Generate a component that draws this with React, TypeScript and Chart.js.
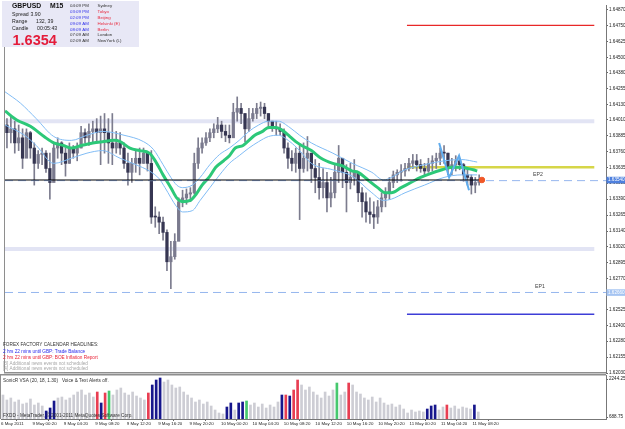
import React, { useEffect, useRef } from 'react';
import { Chart, registerables } from 'chart.js';

Chart.register(...registerables);

const FONT = "'Liberation Sans', Arial, sans-serif";

// ---- GBPUSD candles (each candle = 30 min, two M15 slots on the x axis) ----
const highs = [
  1.6402, 1.6404, 1.6400, 1.6397, 1.6394, 1.6394, 1.6392, 1.6383, 1.6377, 1.6379,
  1.6377, 1.6375, 1.6383, 1.6387, 1.6384, 1.6379, 1.6383, 1.6381, 1.6383, 1.6396,
  1.6394, 1.6398, 1.6400, 1.6402, 1.6404, 1.6406, 1.6402, 1.6406, 1.6392, 1.6391,
  1.6383, 1.6375, 1.6371, 1.6377, 1.6379, 1.6379, 1.6375, 1.6377, 1.6333, 1.6329,
  1.6325, 1.6315, 1.6306, 1.6312, 1.6340, 1.6346, 1.6347, 1.6348, 1.6375, 1.6387,
  1.6387, 1.6391, 1.6394, 1.6398, 1.6403, 1.6400, 1.6397, 1.6397, 1.6414, 1.6419,
  1.6414, 1.6406, 1.6410, 1.6410, 1.6414, 1.6415, 1.6414, 1.6406, 1.6400, 1.6400,
  1.6398, 1.6394, 1.6383, 1.6377, 1.6379, 1.6381, 1.6383, 1.6388, 1.6375, 1.6370,
  1.6367, 1.6363, 1.6360, 1.6356, 1.6367, 1.6381, 1.6371, 1.6366, 1.6367, 1.6370,
  1.6360, 1.6348, 1.6344, 1.6340, 1.6337, 1.6338, 1.6344, 1.6348, 1.6356, 1.6361,
  1.6362, 1.6366, 1.6367, 1.6371, 1.6374, 1.6374, 1.6370, 1.6367, 1.6371, 1.6373,
  1.6375, 1.6379, 1.6381, 1.6375, 1.6371, 1.6373, 1.6371, 1.6367, 1.6363, 1.6358,
  1.6356, 1.6358,
];
const lows = [
  1.6379, 1.6383, 1.6375, 1.6377, 1.6363, 1.6375, 1.6371, 1.6350, 1.6363, 1.6366,
  1.6360, 1.6339, 1.6363, 1.6371, 1.6366, 1.6357, 1.6367, 1.6371, 1.6369, 1.6379,
  1.6383, 1.6381, 1.6384, 1.6383, 1.6366, 1.6375, 1.6367, 1.6366, 1.6375, 1.6374,
  1.6363, 1.6350, 1.6352, 1.6360, 1.6358, 1.6367, 1.6361, 1.6320, 1.6317, 1.6312,
  1.6307, 1.6283, 1.6269, 1.6292, 1.6310, 1.6333, 1.6335, 1.6337, 1.6343, 1.6363,
  1.6375, 1.6381, 1.6384, 1.6387, 1.6391, 1.6387, 1.6384, 1.6383, 1.6394, 1.6400,
  1.6398, 1.6384, 1.6392, 1.6400, 1.6402, 1.6404, 1.6402, 1.6394, 1.6392, 1.6389,
  1.6389, 1.6375, 1.6363, 1.6361, 1.6360, 1.6323, 1.6360, 1.6361, 1.6352, 1.6344,
  1.6339, 1.6340, 1.6329, 1.6333, 1.6340, 1.6352, 1.6348, 1.6329, 1.6347, 1.6350,
  1.6337, 1.6325, 1.6321, 1.6320, 1.6316, 1.6320, 1.6329, 1.6333, 1.6339, 1.6348,
  1.6352, 1.6353, 1.6357, 1.6361, 1.6363, 1.6361, 1.6360, 1.6358, 1.6360, 1.6361,
  1.6363, 1.6366, 1.6367, 1.6358, 1.6358, 1.6361, 1.6362, 1.6353, 1.6350, 1.6343,
  1.6344, 1.6350,
];
const closes = [
  1.6391, 1.6394, 1.6383, 1.6387, 1.6371, 1.6391, 1.6379, 1.6367, 1.6374, 1.6375,
  1.6363, 1.6352, 1.6379, 1.6383, 1.6375, 1.6367, 1.6379, 1.6375, 1.6379, 1.6391,
  1.6387, 1.6392, 1.6394, 1.6391, 1.6394, 1.6391, 1.6383, 1.6379, 1.6383, 1.6379,
  1.6367, 1.6360, 1.6367, 1.6371, 1.6367, 1.6375, 1.6367, 1.6325, 1.6325, 1.6321,
  1.6313, 1.6290, 1.6294, 1.6306, 1.6337, 1.6340, 1.6343, 1.6344, 1.6367, 1.6379,
  1.6383, 1.6387, 1.6391, 1.6394, 1.6397, 1.6392, 1.6389, 1.6387, 1.6407, 1.6410,
  1.6406, 1.6394, 1.6402, 1.6406, 1.6410, 1.6411, 1.6406, 1.6400, 1.6395, 1.6394,
  1.6392, 1.6379, 1.6371, 1.6367, 1.6375, 1.6363, 1.6371, 1.6375, 1.6363, 1.6356,
  1.6348, 1.6352, 1.6340, 1.6344, 1.6360, 1.6371, 1.6360, 1.6352, 1.6356, 1.6360,
  1.6344, 1.6337, 1.6329, 1.6327, 1.6325, 1.6333, 1.6340, 1.6344, 1.6352, 1.6358,
  1.6360, 1.6361, 1.6363, 1.6367, 1.6369, 1.6366, 1.6363, 1.6361, 1.6367, 1.6369,
  1.6371, 1.6375, 1.6375, 1.6363, 1.6366, 1.6369, 1.6366, 1.6358, 1.6356, 1.6350,
  1.6352, 1.6354,
];
const firstOpen = 1.6397;

// ---- SonicR VSA volume (one bar per candle) ----
const volumes = [
  1589, 1385, 1467, 1303, 1385, 1221, 1262, 1426, 1180, 1262,
  1139, 934, 1057, 1344, 1467, 1507, 1385, 1467, 1589, 1712,
  1794, 1589, 1671, 1507, 1712, 1262, 1671, 1753, 1589, 1794,
  1876, 1671, 1589, 1712, 1548, 1467, 1385, 1671, 1999, 2203,
  2285, 2121, 2203, 1999, 1876, 1917, 1712, 1589, 1467, 1303,
  1385, 1221, 1303, 1139, 975, 853, 812, 1098, 1262, 975,
  1262, 1303, 1344, 1180, 1262, 1098, 1221, 1057, 1180, 1098,
  1303, 1589, 1589, 1548, 1794, 2203, 1999, 1794, 1917, 1712,
  1589, 1467, 1712, 1548, 1794, 2080, 1589, 1712, 2080, 1999,
  1712, 1630, 1467, 1385, 1507, 1303, 1467, 1262, 1180, 1221,
  1098, 1180, 1016, 853, 975, 894, 934, 894, 1016, 1139,
  1180, 975, 1098, 1180, 1057, 1139, 1016, 1098, 1057, 1016,
  1180, 894,
];
// g = normal, n = navy, r = red, G = green
const volumeKinds = (
  'gggggggggg' + 'gnnngggggg' + 'ggggrnrGgg' + 'gggggggrnn' + 'nggggggggg' +
  'gggggggnng' + 'nnGggggggg' + 'gnrnrrgggg' + 'gggggGggrg' + 'gggggggggg' +
  'ggggggggnn' + 'nggrgggggg' + 'ng'
).split('');

// ---- indicator lines: [M15 slot, price] ----
const maLine: [number, number][] = [
  [0, 1.6408], [6, 1.6401], [13, 1.6396], [20, 1.6388], [25, 1.6383], [30, 1.6381],
  [34, 1.6379], [39, 1.6381], [45, 1.6383], [50, 1.6384], [56, 1.6385], [59, 1.6384],
  [64, 1.6379], [69, 1.6377], [74, 1.6375], [77, 1.6369], [81, 1.6358], [85, 1.6348],
  [88, 1.6340], [91, 1.6337], [95, 1.6338], [98, 1.6343], [101, 1.6350], [105, 1.6357],
  [108, 1.6364], [112, 1.6369], [115, 1.6373], [118, 1.6379], [122, 1.6381], [125, 1.6385],
  [128, 1.6389], [132, 1.6392], [135, 1.6395], [139, 1.6395], [142, 1.6393], [146, 1.6388],
  [149, 1.6384], [152, 1.6381], [157, 1.6377], [162, 1.6371], [168, 1.6367], [173, 1.6365],
  [178, 1.6361], [181, 1.6360], [186, 1.6354], [191, 1.6348], [195, 1.6344], [198, 1.6344],
  [203, 1.6348], [208, 1.6352], [213, 1.6356], [218, 1.6359], [224, 1.6362], [229, 1.6364],
  [234, 1.6364], [237, 1.6363], [240, 1.6362], [242, 1.6361],
];
const upperBand: [number, number][] = [
  [0, 1.6423], [8, 1.6414], [16, 1.6402], [25, 1.6388], [34, 1.6385], [42, 1.6389],
  [50, 1.6392], [61, 1.6389], [71, 1.6384], [76, 1.6378], [81, 1.6366], [85, 1.6356],
  [88, 1.6350], [91, 1.6348], [96, 1.6350], [100, 1.6356], [105, 1.6366], [110, 1.6374],
  [115, 1.6379], [120, 1.6385], [125, 1.6392], [130, 1.6397], [135, 1.6400], [140, 1.6400],
  [146, 1.6395], [151, 1.6389], [157, 1.6383], [168, 1.6375], [178, 1.6367], [188, 1.6360],
  [194, 1.6354], [198, 1.6356], [205, 1.6362], [215, 1.6366], [225, 1.6369], [234, 1.6370],
  [242, 1.6368],
];
const lowerBand: [number, number][] = [
  [0, 1.6397], [10, 1.6389], [16, 1.6381], [25, 1.6367], [34, 1.6371], [42, 1.6375],
  [50, 1.6377], [59, 1.6371], [67, 1.6366], [74, 1.6361], [79, 1.6355], [82, 1.6348],
  [88, 1.6333], [91, 1.6329], [96, 1.6330], [100, 1.6338], [105, 1.6348], [110, 1.6358],
  [115, 1.6367], [120, 1.6373], [125, 1.6379], [130, 1.6384], [135, 1.6388], [140, 1.6389],
  [146, 1.6384], [151, 1.6377], [157, 1.6367], [168, 1.6362], [178, 1.6357], [188, 1.6344],
  [194, 1.6338], [198, 1.6339], [205, 1.6344], [215, 1.6350], [225, 1.6356], [234, 1.6358],
  [242, 1.6358],
];
const zigzag: [number, number][] = [
  [222.5, 1.6383], [227.6, 1.6356], [232.7, 1.6373], [237.8, 1.6346],
];

// ---- horizontal levels ----
const redLevel = 1.6475;
const resistLevel = 1.64;
const yellowLevel = 1.6364;
const bidLevel = 1.6354;
const dashLevel = 1.63535;
const supportLevel = 1.63;
const ep1Level = 1.6266;
const navyLevel = 1.6249;
const levelStart = 206;
const levelEnd = 302;
const bidSlot = 244.4;

// ---- axis ticks ----
const priceTicks = [
  1.6487, 1.6475, 1.64625, 1.645, 1.6438, 1.64255, 1.6413, 1.6401, 1.63885, 1.6376,
  1.63635, 1.63515, 1.6339, 1.63265, 1.6314, 1.6302, 1.62895, 1.6277, 1.62525, 1.624,
  1.6228, 1.62155, 1.6203,
];
const volumeTicks = [688.75, 2244.25];
const dateTicks = [0, 16, 32, 48, 64, 80, 96, 112, 128, 144, 160, 176, 192, 208, 224, 240];
const dateLabels = [
  '6 May 2011', '9 May 00:20', '9 May 04:20', '9 May 08:20', '9 May 12:20', '9 May 16:20',
  '9 May 20:20', '10 May 00:20', '10 May 04:20', '10 May 08:20', '10 May 12:20',
  '10 May 16:20', '10 May 20:20', '11 May 00:20', '11 May 04:20', '11 May 08:20',
];

const cityTimes = ['04:09 PM', '03:09 PM', '02:09 PM', '09:09 AM', '08:09 AM', '07:09 AM', '02:09 AM'];
const cityNames = ['Sydney', 'Tokyo', 'Beijing', 'Helsinki (E)', 'Berlin', 'London', 'NewYork (L)'];
const headlines = [
  'FOREX FACTORY CALENDAR HEADLINES:',
  '2 hrs 22 mins until GBP: Trade Balance',
  '2 hrs 22 mins until GBP: BOE Inflation Report',
  '[3] Additional news events not scheduled',
  '[4] Additional news events not scheduled',
];

const X_MIN = 0;
const X_MAX = 308;
const slot = (k: number) => 2 * k + 1;

const BULL = '#7a7a8e';
const BEAR = '#363652';
const WICK = '#7c7c8e';
const VOL_COLORS: Record<string, string> = {
  g: 'rgb(205,205,212)',
  n: 'rgb(22,22,140)',
  r: 'rgb(232,62,82)',
  G: 'rgb(70,200,110)',
};

function lineDs(pts: [number, number][], color: string, width: number, order: number, extra: any = {}) {
  return {
    type: 'line',
    data: pts.map(([x, y]) => ({ x, y })),
    borderColor: color,
    backgroundColor: color,
    borderWidth: width,
    pointRadius: 0,
    fill: false,
    order,
    ...extra,
  };
}

export default function App() {
  const topRef = useRef<HTMLCanvasElement>(null);
  const botRef = useRef<HTMLCanvasElement>(null);

  useEffect(() => {
    document.body.style.margin = '0';
    const opens = closes.map((c, k) => (k === 0 ? firstOpen : closes[k - 1]));
    const wicks = highs.map((h, k) => ({ x: slot(k), y: [lows[k], h] }));
    const bodies = closes.map((c, k) => ({ x: slot(k), y: [opens[k], c] }));
    const bodyColors = closes.map((c, k) => (c > opens[k] ? BULL : BEAR));

    const overlayTop = {
      id: 'overlayTop',
      afterDraw(chart: any) {
        const ctx = chart.ctx as CanvasRenderingContext2D;
        const ca = chart.chartArea;
        const ys = chart.scales.y;
        ctx.save();
        // frame
        ctx.fillStyle = '#8e8e8e';
        ctx.fillRect(ca.left - 1, ca.top, 1, ca.bottom - ca.top);
        ctx.fillRect(ca.left - 1, ca.bottom - 1, ca.right - ca.left + 1, 1.5);

        // info box
        ctx.fillStyle = 'rgb(232,232,246)';
        ctx.fillRect(2, 1, 137, 46);
        ctx.textBaseline = 'middle';
        ctx.fillStyle = '#111';
        ctx.font = `bold 6.8px ${FONT}`;
        ctx.fillText('GBPUSD', 12, 6.5);
        ctx.fillText('M15', 50, 6.5);
        ctx.font = `5.2px ${FONT}`;
        ctx.fillStyle = '#222';
        ctx.fillText('Spread', 12, 14.5);
        ctx.fillText('3.90', 30.5, 14.5);
        ctx.fillText('Range', 12, 21.5);
        ctx.fillText('132, 39', 36, 21.5);
        ctx.fillText('Candle', 12, 28.5);
        ctx.fillText('00:05:43', 37, 28.5);
        ctx.textBaseline = 'alphabetic';
        ctx.fillStyle = 'rgb(228,28,58)';
        ctx.font = `bold 14.5px ${FONT}`;
        ctx.fillText('1.6354', 12.5, 44.5);
        ctx.textBaseline = 'middle';
        ctx.font = `4.4px ${FONT}`;
        const rowsY = [6, 12, 18, 24, 29.5, 35, 41];
        cityTimes.forEach((t, i) => {
          const accent = i >= 1 && i <= 4;
          ctx.fillStyle = accent ? 'rgb(50,50,235)' : '#333';
          ctx.fillText(t, 70, rowsY[i]);
          ctx.fillStyle = accent ? 'rgb(232,40,60)' : '#333';
          ctx.fillText(cityNames[i], 97.5, rowsY[i]);
        });

        // headlines
        const hlColors = ['#333', 'rgb(40,40,235)', 'rgb(232,30,50)', '#a8a8a8', '#a8a8a8'];
        const hlY = [345, 351.5, 357.5, 363.5, 369];
        ctx.font = `4.7px ${FONT}`;
        headlines.forEach((h, i) => {
          ctx.fillStyle = hlColors[i];
          ctx.fillText(h, 3, hlY[i]);
        });

        // EP labels
        ctx.fillStyle = '#444';
        ctx.font = `5.2px ${FONT}`;
        ctx.fillText('EP2', 533, ys.getPixelForValue(dashLevel) - 6);
        ctx.fillText('EP1', 535, ys.getPixelForValue(ep1Level) - 6);

        // price tags on axis
        const tag = (price: number, text: string, bg: string) => {
          const py = ys.getPixelForValue(price);
          ctx.fillStyle = bg;
          ctx.fillRect(606.5, py - 3.2, 18.5, 6.6);
          ctx.fillStyle = '#fff';
          ctx.font = `4.6px ${FONT}`;
          ctx.fillText(text, 608, py + 0.2);
        };
        tag(bidLevel, '1.63540', 'rgb(78,128,222)');
        tag(ep1Level, '1.62660', 'rgb(165,196,242)');
        ctx.restore();
      },
    };

    const topChart = new Chart(topRef.current as HTMLCanvasElement, {
      type: 'bar',
      data: {
        datasets: [
          {
            type: 'line',
            data: [{ x: bidSlot, y: bidLevel }],
            pointRadius: 2.8,
            pointBackgroundColor: 'rgb(240,88,40)',
            pointBorderColor: 'rgb(240,88,40)',
            showLine: false,
            order: 0,
          },
          lineDs([[X_MIN, bidLevel], [bidSlot, bidLevel]], '#000', 1, 1),
          lineDs([[X_MIN, dashLevel], [X_MAX, dashLevel]], 'rgb(150,182,238)', 1, 2, { borderDash: [8, 5] }),
          lineDs([[X_MIN, ep1Level], [X_MAX, ep1Level]], 'rgb(150,182,238)', 1, 2, { borderDash: [8, 5] }),
          lineDs(zigzag, 'rgb(95,172,238)', 2, 3),
          lineDs(maLine, 'rgb(44,200,120)', 3, 4, { tension: 0.4, cubicInterpolationMode: 'monotone' }),
          lineDs(upperBand, 'rgb(128,188,245)', 1, 5, { tension: 0.4, cubicInterpolationMode: 'monotone' }),
          lineDs(lowerBand, 'rgb(128,188,245)', 1, 5, { tension: 0.4, cubicInterpolationMode: 'monotone' }),
          {
            type: 'bar',
            data: bodies,
            backgroundColor: bodyColors,
            barThickness: 2.6,
            minBarLength: 1,
            grouped: false,
            order: 6,
          },
          {
            type: 'bar',
            data: wicks,
            backgroundColor: WICK,
            barThickness: 1,
            grouped: false,
            order: 7,
          },
          lineDs([[levelStart, redLevel], [levelEnd, redLevel]], 'rgb(232,40,40)', 1.2, 8),
          lineDs([[levelStart, yellowLevel], [levelEnd, yellowLevel]], 'rgb(214,214,72)', 2.5, 8),
          lineDs([[levelStart, navyLevel], [levelEnd, navyLevel]], 'rgb(62,62,215)', 1.5, 8),
          lineDs([[X_MIN, resistLevel], [levelEnd, resistLevel]], 'rgb(226,228,244)', 4, 9),
          lineDs([[X_MIN, supportLevel], [levelEnd, supportLevel]], 'rgb(226,228,244)', 4, 9),
        ] as any,
      },
      options: {
        responsive: false,
        animation: false,
        devicePixelRatio: 1,
        events: [],
        layout: { padding: { left: 1, right: 0, top: 0, bottom: 7 } },
        plugins: { legend: { display: false }, tooltip: { enabled: false } },
        scales: {
          x: { type: 'linear', min: X_MIN, max: X_MAX, display: false, offset: false },
          y: {
            type: 'linear',
            position: 'right',
            min: 1.6203,
            max: 1.64909,
            afterBuildTicks: (s: any) => {
              s.ticks = priceTicks.map((v) => ({ value: v }));
            },
            afterFit: (s: any) => {
              s.width = 19;
              s.paddingTop = 0;
              s.paddingBottom = 0;
            },
            ticks: {
              autoSkip: false,
              padding: 1,
              color: '#222',
              font: { family: FONT, size: 4.6 },
              callback: (v: any) => Number(v).toFixed(5),
            },
            grid: { drawOnChartArea: false, drawTicks: true, tickLength: 2, color: '#666' },
            border: { display: true, color: '#777' },
          },
        },
      } as any,
      plugins: [overlayTop],
    });

    const overlayBot = {
      id: 'overlayBot',
      afterDraw(chart: any) {
        const ctx = chart.ctx as CanvasRenderingContext2D;
        const ca = chart.chartArea;
        ctx.save();
        ctx.fillStyle = '#8e8e8e';
        ctx.fillRect(ca.left - 1, ca.top - 1, ca.right - ca.left + 1, 1.5);
        ctx.fillRect(ca.left - 1, ca.top, 1, ca.bottom - ca.top);
        ctx.textBaseline = 'middle';
        ctx.font = `4.7px ${FONT}`;
        ctx.fillStyle = '#333';
        ctx.fillText('SonicR VSA (20, 18, 1.30)   Voice & Text Alerts off.', 3, 7);
        ctx.fillText('FXDD - MetaTrader, \u00a9 2001-2011 MetaQuotes Software Corp.', 3, 41.5);
        ctx.restore();
      },
    };

    const botChart = new Chart(botRef.current as HTMLCanvasElement, {
      type: 'bar',
      data: {
        datasets: [
          {
            data: volumes.map((v, k) => ({ x: slot(k), y: v })),
            backgroundColor: volumeKinds.map((c) => VOL_COLORS[c]),
            barThickness: 2,
            grouped: false,
          },
        ] as any,
      },
      options: {
        responsive: false,
        animation: false,
        devicePixelRatio: 1,
        events: [],
        layout: { padding: { left: 1, right: 0, top: 1, bottom: 0 } },
        plugins: { legend: { display: false }, tooltip: { enabled: false } },
        scales: {
          x: {
            type: 'linear',
            min: X_MIN,
            max: X_MAX,
            offset: false,
            afterBuildTicks: (s: any) => {
              s.ticks = dateTicks.map((v) => ({ value: v }));
            },
            afterFit: (s: any) => {
              s.height = 10;
              s.paddingLeft = 0;
              s.paddingRight = 0;
            },
            ticks: {
              autoSkip: false,
              maxRotation: 0,
              align: 'start',
              padding: 0.5,
              color: '#222',
              font: { family: FONT, size: 4.4 },
              callback: (v: any) => dateLabels[dateTicks.indexOf(Number(v))] ?? '',
            },
            grid: { drawOnChartArea: false, drawTicks: true, tickLength: 2, color: '#666' },
            border: { display: true, color: '#777' },
          },
          y: {
            type: 'linear',
            position: 'right',
            min: 607,
            max: 2408,
            afterBuildTicks: (s: any) => {
              s.ticks = volumeTicks.map((v) => ({ value: v }));
            },
            afterFit: (s: any) => {
              s.width = 19;
              s.paddingTop = 0;
              s.paddingBottom = 0;
            },
            ticks: {
              autoSkip: false,
              padding: 1,
              color: '#222',
              font: { family: FONT, size: 4.6 },
              callback: (v: any) => Number(v).toFixed(2),
            },
            grid: { drawOnChartArea: false, drawTicks: true, tickLength: 2, color: '#666' },
            border: { display: true, color: '#777' },
          },
        },
      } as any,
      plugins: [overlayBot],
    });

    return () => {
      topChart.destroy();
      botChart.destroy();
    };
  }, []);

  return (
    <div style={{ position: 'fixed', left: 0, top: 0, width: 625, height: 429, background: '#fff', overflow: 'hidden' }}>
      <canvas ref={botRef} width={625} height={55} style={{ position: 'absolute', left: 0, top: 374, width: 625, height: 55 }} />
      <canvas ref={topRef} width={625} height={380} style={{ position: 'absolute', left: 0, top: 0, width: 625, height: 380 }} />
    </div>
  );
}
